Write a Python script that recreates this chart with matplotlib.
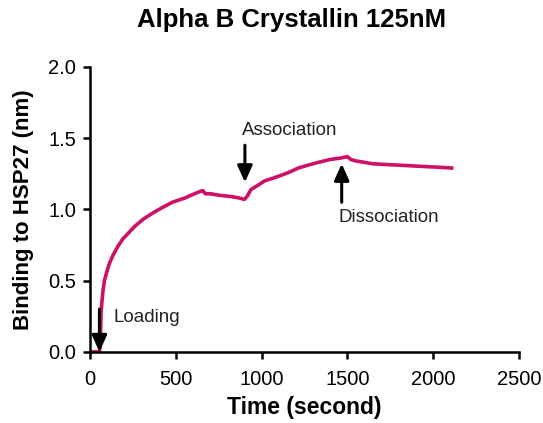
import numpy as np
import matplotlib.pyplot as plt

plt.rcParams['font.family'] = ['Liberation Sans', 'DejaVu Sans']

# sensorgram (time in s, binding in nm)
time_s = [0, 20, 40, 55, 60, 65, 75, 84, 100, 113, 135, 162, 190, 221, 260, 309, 360,
          417, 480, 553, 610, 651, 660, 671, 700, 749, 822, 870, 900, 915, 939, 980,
          1018, 1070, 1116, 1160, 1214, 1270, 1331, 1400, 1460, 1500, 1520, 1549, 1600,
          1647, 1720, 1804, 1880, 1960, 2040, 2108]
binding_nm = [0.0, 0.0, 0.0, 0.0, 0.05, 0.29, 0.42, 0.50, 0.57, 0.62, 0.68, 0.74, 0.79,
              0.83, 0.88, 0.93, 0.97, 1.01, 1.05, 1.08, 1.11, 1.13, 1.13, 1.11, 1.11,
              1.10, 1.09, 1.08, 1.07, 1.09, 1.14, 1.17, 1.20, 1.22, 1.24, 1.26, 1.29,
              1.31, 1.33, 1.35, 1.36, 1.37, 1.35, 1.34, 1.33, 1.32, 1.315, 1.31, 1.305,
              1.30, 1.295, 1.29]

x_ticks = [0, 500, 1000, 1500, 2000, 2500]
y_ticks = [0.0, 0.5, 1.0, 1.5, 2.0]

fig = plt.figure(figsize=(5.43, 4.23), dpi=100)
ax = fig.add_axes([0.1657, 0.168, 0.79, 0.674])

ax.plot(time_s, binding_nm, color='#cc1166', lw=2.6, solid_joinstyle='round')

ax.set_xlim(0, 2500)
ax.set_ylim(0, 2.0)
ax.set_xticks(x_ticks)
ax.set_yticks(y_ticks)
ax.set_yticklabels([f'{v:.1f}' for v in y_ticks])
ax.tick_params(direction='out', length=5, width=1.8, labelsize=14.5)
ax.tick_params(axis='x', pad=8)
ax.tick_params(axis='y', pad=5)
for side in ['top', 'right']:
    ax.spines[side].set_visible(False)
for side in ['left', 'bottom']:
    ax.spines[side].set_linewidth(1.8)
ax.patch.set_alpha(0)

ax.set_xlabel('Time (second)', fontsize=16.5, fontweight='bold', labelpad=5)
ax.set_ylabel('Binding to HSP27 (nm)', fontsize=16, fontweight='bold', labelpad=10)
fig.suptitle('Alpha B Crystallin 125nM', fontsize=18.5, fontweight='bold', x=0.537, y=0.98)

arrow = dict(arrowstyle='-|>,head_width=0.45,head_length=1.0', color='black', lw=2.2,
             shrinkA=0, shrinkB=0)
ax.annotate('', xy=(55, 0.0), xytext=(55, 0.3), arrowprops=arrow, annotation_clip=False)
ax.annotate('', xy=(903, 1.19), xytext=(903, 1.45), arrowprops=arrow)
ax.annotate('', xy=(1467, 1.32), xytext=(1467, 1.05), arrowprops=arrow)

ax.text(135, 0.245, 'Loading', fontsize=13.5, va='center', ha='left', color='#222222')
ax.text(885, 1.55, 'Association', fontsize=13.5, va='center', ha='left', color='#222222')
ax.text(1448, 0.94, 'Dissociation', fontsize=13.5, va='center', ha='left', color='#222222')

fig.savefig('out.png', dpi=100)
